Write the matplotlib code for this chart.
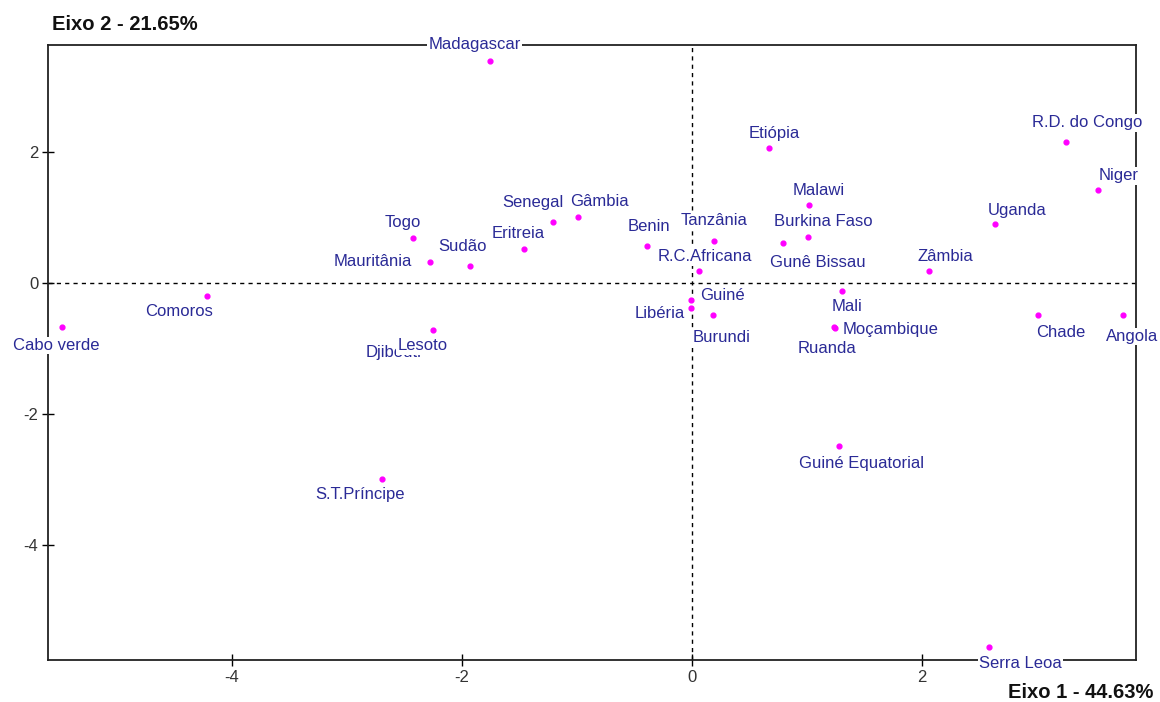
import numpy as np
import matplotlib.pyplot as plt

plt.rcParams['font.family'] = ['Liberation Sans', 'DejaVu Sans']
plt.rcParams['axes.unicode_minus'] = False

# coordenadas dos paises nos eixos 1 e 2
paises = ['Madagascar', 'Etiópia', 'R.D. do Congo', 'Niger', 'Malawi', 'Uganda',
          'Burkina Faso', 'Gunê Bissau', 'Tanzânia', 'Benin', 'R.C.Africana', 'Zâmbia',
          'Gâmbia', 'Senegal', 'Eritreia', 'Togo', 'Sudão', 'Mauritânia', 'Comoros',
          'Cabo verde', 'Djibouti', 'Lesoto', 'Guiné', 'Libéria', 'Burundi', 'Mali',
          'Moçambique', 'Ruanda', 'Chade', 'Angola', 'Guiné Equatorial', 'S.T.Príncipe',
          'Serra Leoa']
eixo1 = [-1.76, 0.67, 3.25, 3.53, 1.02, 2.63, 1.01, 0.79, 0.19, -0.39, 0.06, 2.06,
         -0.99, -1.21, -1.46, -2.43, -1.93, -2.28, -4.22, -5.48, -2.52, -2.25, -0.01,
         -0.01, 0.18, 1.30, 1.23, 1.24, 3.01, 3.75, 1.28, -2.70, 2.58]
eixo2 = [3.39, 2.05, 2.15, 1.42, 1.18, 0.89, 0.70, 0.60, 0.64, 0.56, 0.18, 0.18,
         1.00, 0.93, 0.52, 0.69, 0.25, 0.31, -0.20, -0.67, -0.87, -0.72, -0.26,
         -0.38, -0.50, -0.12, -0.67, -0.69, -0.50, -0.50, -2.50, -2.99, -5.56]

# deslocamento dos rotulos (pixels)
desloc = [(-15, 16), (5, 15), (21, 19), (21, 14), (9, 15), (23, 14), (15, 15), (35, -19),
          (0, 20), (2, 20), (6, 14), (16, 14), (21, 16), (-20, 19), (-6, 15), (-10, 15),
          (-8, 20), (-57, 1), (-28, -16), (-6, -19), (-9, -13), (-11, -16), (32, 4),
          (-31, -6), (9, -22), (5, -16), (57, -3), (-8, -21), (23, -17), (9, -21),
          (22, -17), (-21, -16), (32, -17)]

fig = plt.figure(figsize=(11.6, 7.02), dpi=100)
ax = fig.add_axes([48 / 1160, 1 - 660 / 702, (1136 - 48) / 1160, (660 - 45) / 702])

ax.axhline(0, color='black', ls=(0, (3, 3)), lw=1, zorder=1)
ax.axvline(0, color='black', ls=(0, (3, 3)), lw=1, zorder=1)
ax.scatter(eixo1, eixo2, s=12, color='#ff00ff', zorder=2)

for nome, x, y, (dx, dy) in zip(paises, eixo1, eixo2, desloc):
    ax.annotate(nome, (x, y), xytext=(dx, dy), textcoords='offset pixels',
                ha='center', va='center', fontsize=12, color='#2a2a96',
                bbox=dict(boxstyle='square,pad=0.08', fc='white', ec='none'),
                annotation_clip=False, zorder=4)

ax.set_xlim(-5.6, 3.86)
ax.set_ylim(-5.76, 3.63)
ax.set_xticks([-4, -2, 0, 2])
ax.set_yticks([-4, -2, 0, 2])
ax.tick_params(direction='inout', length=8, width=1, labelsize=12, labelcolor='#333333', pad=3)
for s in ax.spines.values():
    s.set_linewidth(1.3)
    s.set_color('#222222')

fig.text(52 / 1160, 1 - 24 / 702, 'Eixo 2 - 21.65%', fontsize=14.5, fontweight='bold',
         ha='left', va='center', color='#111111')
fig.text(1153 / 1160, 1 - 692 / 702, 'Eixo 1 - 44.63%', fontsize=14.5, fontweight='bold',
         ha='right', va='center', color='#111111')

fig.savefig('out.png', dpi=100)
